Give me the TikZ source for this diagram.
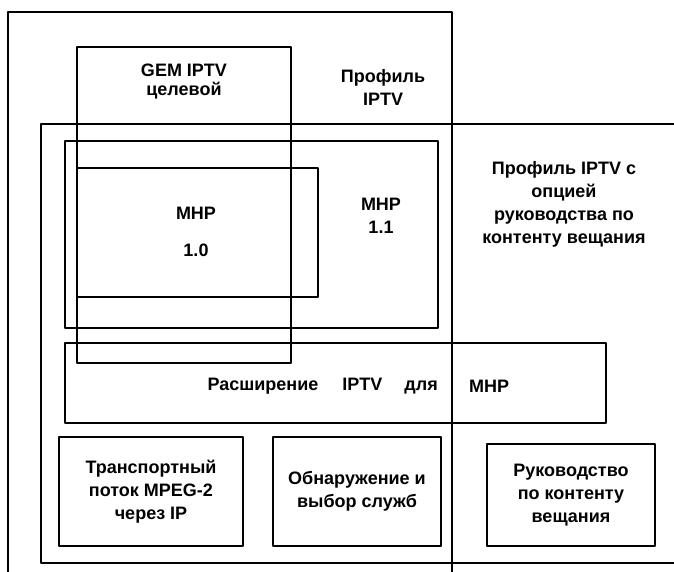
\documentclass[tikz,border=0pt]{standalone}
\usepackage{fontspec}
\setmainfont{Liberation Sans}
\begin{document}
\begin{tikzpicture}[x=1pt, y=-1pt, line join=round,
    font=\fontsize{18}{23}\selectfont\bfseries,
    ramka/.style={line width=1.6pt},
    blok/.style={line width=2.8pt},
    tekst/.style={align=center, inner sep=0pt}]
  \useasboundingbox (0,0) rectangle (674,571);
  \clip (0,0) rectangle (674,571);
  % profili (uhodyat za kraj)
  \draw[ramka] (8,12) rectangle (452,600);
  \draw[ramka] (41,124) rectangle (700,563);
  % MHP i GEM
  \draw[blok] (65,141) rectangle (438,328);
  \draw[blok] (77,168) rectangle (318,297);
  \draw[blok] (77,47) rectangle (291,363);
  \draw[blok] (65,343) rectangle (606,423);
  \node[tekst] (gem) at (184,82) {GEM IPTV\\[-4pt]целевой};
  \node[tekst] (profil) at (383,87) {Профиль\\IPTV};
  \node[tekst] (opciya) at (564,204) {Профиль IPTV с\\опцией\\руководства по\\контенту вещания};
  \node[tekst] (mhpA) at (196,232) {MHP\\[14pt]1.0};
  \node[tekst] (mhpB) at (381,216) {MHP\\1.1};
  \node[tekst, anchor=east] (rassh) at (438,386) {Расширение\hspace{24pt}IPTV\hspace{22pt}для};
  \node[tekst, anchor=west] (mhpC) at (469,386) {MHP};
  % nizhnie bloki
  \node[blok, draw, tekst, minimum width=184pt, minimum height=109pt] (transport) at (151,491.5)
    {Транспортный\\поток MPEG-2\\через IP};
  \node[blok, draw, tekst, minimum width=168pt, minimum height=109pt] (poisk) at (357,491.5)
    {Обнаружение и\\выбор служб};
  \node[blok, draw, tekst, minimum width=168pt, minimum height=102pt] (rukov) at (571,495)
    {Руководство\\по контенту\\вещания};
\end{tikzpicture}
\end{document}
